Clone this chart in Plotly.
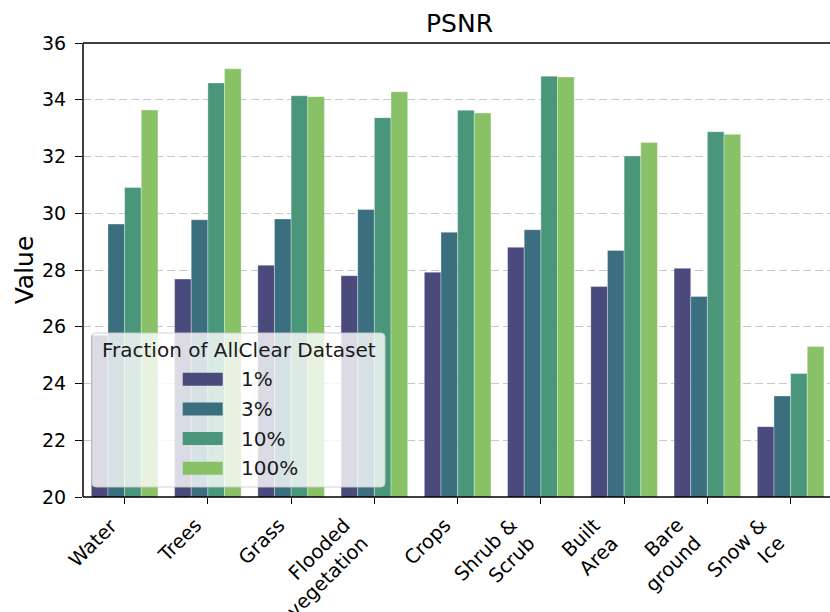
import plotly.graph_objects as go

categories = ["Water", "Trees", "Grass", "Flooded<br>vegetation", "Crops",
              "Shrub &<br>Scrub", "Built<br>Area", "Bare<br>ground", "Snow &<br>Ice"]
series_names = ["1%", "3%", "10%", "100%"]
psnr_1 = [25.70, 27.68, 28.17, 27.80, 27.92, 28.80, 27.42, 28.06, 22.48]
psnr_3 = [29.62, 29.77, 29.80, 30.13, 29.33, 29.42, 28.69, 27.07, 23.56]
psnr_10 = [30.91, 34.59, 34.14, 33.37, 33.63, 34.83, 32.02, 32.87, 24.35]
psnr_100 = [33.64, 35.09, 34.11, 34.28, 33.53, 34.80, 32.49, 32.78, 25.30]
y_ticks = [20, 22, 24, 26, 28, 30, 32, 34, 36]

colors = ["#4a4a7c", "#3b6f7f", "#4a967b", "#88c166"]
FONT = "DejaVu Sans"

fig = go.Figure()
for name, vals, col in zip(series_names, [psnr_1, psnr_3, psnr_10, psnr_100], colors):
    fig.add_trace(go.Bar(
        x=categories, y=vals, name=name,
        marker=dict(color=col, line=dict(width=0.6, color="rgba(255,255,255,0.55)")),
        showlegend=False, hoverinfo="skip",
    ))

# plot area in pixels (the figure is slightly wider than the 830px window,
# so the right end of the axes is cut off just as in the reference)
L, R, T, B = 83, 836, 43, 497
W, H = 836, 612
UNIT = 83.25  # pixels per category

def px(x):
    return (x - L) / (R - L)

def py(y):
    return (B - y) / (B - T)

shapes = []
annotations = []

# spines: top, bottom, left
shapes.append(dict(type="line", xref="paper", yref="paper", x0=0, x1=1.2, y0=1, y1=1,
                   line=dict(color="black", width=1.5), layer="above"))
shapes.append(dict(type="line", xref="paper", yref="paper", x0=0, x1=1.2, y0=0, y1=0,
                   line=dict(color="black", width=1.5), layer="above"))
shapes.append(dict(type="line", xref="paper", yref="paper", x0=0, x1=0, y0=0, y1=1,
                   line=dict(color="black", width=1.5), layer="above"))

# category labels (rotated, right/top anchored like matplotlib ha='right')
for c in categories:
    annotations.append(dict(text=c, x=c, xref="x", y=0, yref="paper",
                            xanchor="right", yanchor="top", align="right",
                            textangle=-45, showarrow=False, xshift=1, yshift=-14,
                            font=dict(family=FONT, size=19.5, color="black")))

# legend frame (rounded)
x0, x1, y0, y1, r = 92, 385, 333, 487, 4
path = (f"M {px(x0 + r)} {py(y0)} L {px(x1 - r)} {py(y0)} "
        f"Q {px(x1)} {py(y0)} {px(x1)} {py(y0 + r)} "
        f"L {px(x1)} {py(y1 - r)} Q {px(x1)} {py(y1)} {px(x1 - r)} {py(y1)} "
        f"L {px(x0 + r)} {py(y1)} Q {px(x0)} {py(y1)} {px(x0)} {py(y1 - r)} "
        f"L {px(x0)} {py(y0 + r)} Q {px(x0)} {py(y0)} {px(x0 + r)} {py(y0)} Z")
shapes.append(dict(type="path", path=path, xref="paper", yref="paper",
                   fillcolor="rgba(255,255,255,0.8)",
                   line=dict(color="rgba(204,204,204,0.9)", width=1), layer="above"))
annotations.append(dict(text="Fraction of AllClear Dataset", x=px(239.2), y=py(350),
                        xref="paper", yref="paper", xanchor="center", yanchor="middle",
                        showarrow=False, font=dict(family=FONT, size=20, color="#1a1a1a")))
item_y = [379.3, 409.0, 438.5, 468.3]
for name, col, yc in zip(series_names, colors, item_y):
    shapes.append(dict(type="rect", xref="paper", yref="paper",
                       x0=px(182.7), x1=px(222.7), y0=py(yc - 6.5), y1=py(yc + 6.5),
                       fillcolor=col, line=dict(width=0), layer="above"))
    annotations.append(dict(text=name, x=px(239.3), y=py(yc), xref="paper", yref="paper",
                            xanchor="left", yanchor="middle", showarrow=False,
                            font=dict(family=FONT, size=20, color="#1a1a1a")))

fig.update_layout(
    width=W, height=H,
    margin=dict(l=L, r=W - R, t=T, b=H - B, autoexpand=False),
    paper_bgcolor="white", plot_bgcolor="white",
    font=dict(family=FONT, color="black"),
    barmode="group", bargap=0.2, bargroupgap=0,
    title=dict(text="PSNR", x=0.5, xref="paper", xanchor="center",
               y=1 - 23 / H, yref="container", yanchor="middle",
               font=dict(family=FONT, size=25, color="black")),
    shapes=shapes, annotations=annotations,
    showlegend=False, hovermode=False,
)
fig.update_xaxes(
    range=[-0.5, -0.5 + (R - L) / UNIT], showline=False,
    mirror=False, ticks="outside", ticklen=6, tickwidth=1.2, tickcolor="black",
    showticklabels=False, showgrid=False, zeroline=False,
)
fig.update_yaxes(
    range=[20, 36], tickvals=y_ticks, showline=False,
    ticks="outside", ticklen=7, tickwidth=1.2, tickcolor="black", ticklabelstandoff=5,
    tickfont=dict(family=FONT, size=19, color="black"),
    showgrid=True, gridcolor="#c8c8c8", gridwidth=1, griddash="8px,4px",
    zeroline=False,
    title=dict(text="Value", standoff=1, font=dict(family=FONT, size=25, color="black")),
)

fig.write_html("out.html", config={"displayModeBar": False},
               post_script="document.documentElement.style.overflow='hidden';"
                           "document.body.style.margin='0';document.body.style.overflow='hidden';")
